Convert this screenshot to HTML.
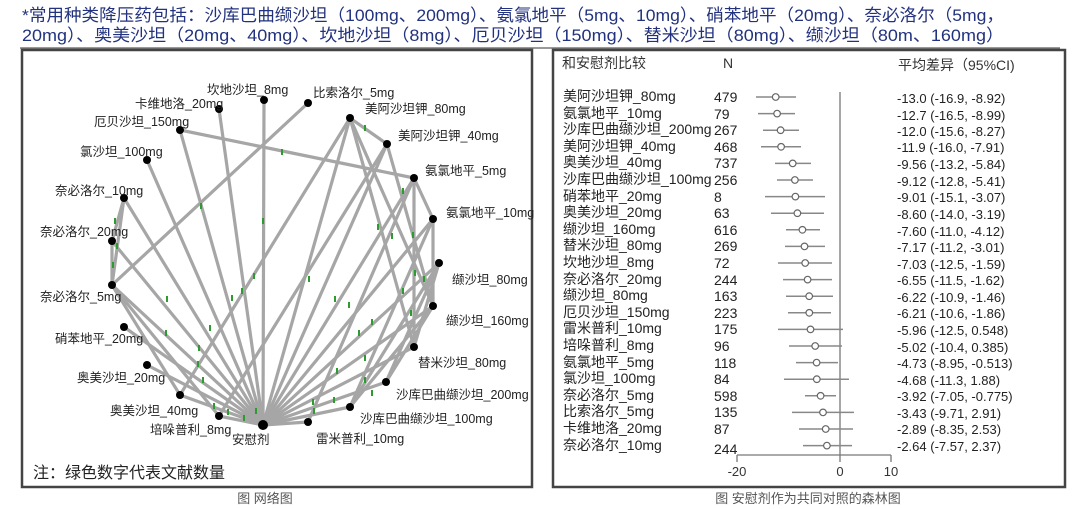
<!DOCTYPE html>
<html><head><meta charset="utf-8"><style>
html,body{margin:0;padding:0;background:#fff;}
svg{display:block;}
text{font-family:"Liberation Sans","Noto Sans CJK SC",sans-serif;}
</style></head><body>
<svg width="1080" height="509" viewBox="0 0 1080 509" xmlns="http://www.w3.org/2000/svg">
<g fill="#22327e" font-size="17">
<text x="22" y="21" textLength="982" lengthAdjust="spacingAndGlyphs">*常用种类降压药包括：沙库巴曲缬沙坦（100mg、200mg）、氨氯地平（5mg、10mg）、硝苯地平（20mg）、奈必洛尔（5mg，</text>
<text x="22" y="41" textLength="982" lengthAdjust="spacingAndGlyphs">20mg）、奥美沙坦（20mg、40mg）、坎地沙坦（8mg）、厄贝沙坦（150mg）、替米沙坦（80mg）、缬沙坦（80m、160mg）</text>
</g>
<line x1="20" y1="48" x2="1060" y2="48" stroke="#333" stroke-width="1"/>
<rect x="22" y="50" width="510" height="437" fill="#fff" stroke="#444" stroke-width="2.5"/>
<g stroke="#a6a6a6" stroke-width="3.2" stroke-linecap="round">
<line x1="263" y1="425" x2="264" y2="100"/><line x1="263" y1="425" x2="350" y2="118"/>
<line x1="263" y1="425" x2="387" y2="144"/><line x1="263" y1="425" x2="414" y2="178"/>
<line x1="263" y1="425" x2="433" y2="219"/><line x1="263" y1="425" x2="439" y2="263"/>
<line x1="263" y1="425" x2="433" y2="306"/><line x1="263" y1="425" x2="414" y2="347"/>
<line x1="263" y1="425" x2="386" y2="382"/><line x1="263" y1="425" x2="350" y2="407"/>
<line x1="263" y1="425" x2="308" y2="422"/><line x1="263" y1="425" x2="219" y2="416"/>
<line x1="263" y1="425" x2="180" y2="395"/><line x1="263" y1="425" x2="147" y2="365"/>
<line x1="263" y1="425" x2="124" y2="327"/><line x1="263" y1="425" x2="112" y2="285"/>
<line x1="263" y1="425" x2="112" y2="241"/><line x1="263" y1="425" x2="124" y2="198"/>
<line x1="263" y1="425" x2="147" y2="160"/><line x1="263" y1="425" x2="180" y2="130"/>
<line x1="263" y1="425" x2="219" y2="109"/>
<line x1="180" y1="130" x2="414" y2="178"/><line x1="308" y1="103" x2="112" y2="285"/>
<line x1="350" y1="118" x2="387" y2="144"/><line x1="350" y1="118" x2="180" y2="395"/>
<line x1="350" y1="118" x2="433" y2="306"/><line x1="350" y1="118" x2="414" y2="347"/>
<line x1="387" y1="144" x2="219" y2="416"/><line x1="387" y1="144" x2="433" y2="306"/>
<line x1="414" y1="178" x2="433" y2="219"/><line x1="414" y1="178" x2="414" y2="347"/>
<line x1="414" y1="178" x2="308" y2="422"/><line x1="433" y1="219" x2="350" y2="407"/>
<line x1="433" y1="219" x2="433" y2="306"/><line x1="439" y1="263" x2="386" y2="382"/>
<line x1="439" y1="263" x2="350" y2="407"/><line x1="439" y1="263" x2="414" y2="347"/>
<line x1="433" y1="306" x2="386" y2="382"/><line x1="433" y1="306" x2="350" y2="407"/>
<line x1="124" y1="198" x2="112" y2="241"/><line x1="112" y1="241" x2="112" y2="285"/>
<line x1="124" y1="198" x2="112" y2="285"/><line x1="112" y1="285" x2="219" y2="416"/>
<line x1="112" y1="285" x2="180" y2="395"/>
</g>
<g fill="#2e9b2e">
<rect x="262" y="218" width="2" height="6"/><rect x="308" y="276" width="2" height="6"/>
<rect x="334" y="296" width="2" height="6"/><rect x="348" y="302" width="2" height="6"/>
<rect x="241" y="288" width="2" height="6"/><rect x="253" y="273" width="2" height="6"/>
<rect x="200" y="203" width="2" height="6"/><rect x="231" y="295" width="2" height="6"/>
<rect x="209" y="325" width="2" height="6"/><rect x="198" y="345" width="2" height="6"/>
<rect x="197" y="361" width="2" height="6"/><rect x="202" y="377" width="2" height="6"/>
<rect x="213" y="403" width="2" height="6"/><rect x="227" y="409" width="2" height="6"/>
<rect x="243" y="415" width="2" height="6"/><rect x="255" y="408" width="2" height="6"/>
<rect x="281" y="149" width="2" height="6"/><rect x="364" y="125" width="2" height="6"/>
<rect x="377" y="224" width="2" height="6"/><rect x="391" y="233" width="2" height="6"/>
<rect x="402" y="188" width="2" height="6"/><rect x="412" y="232" width="2" height="6"/>
<rect x="423" y="276" width="2" height="6"/><rect x="414" y="270" width="2" height="6"/>
<rect x="402" y="288" width="2" height="6"/><rect x="410" y="310" width="2" height="6"/>
<rect x="358" y="330" width="2" height="6"/><rect x="364" y="355" width="2" height="6"/>
<rect x="336" y="368" width="2" height="6"/><rect x="333" y="397" width="2" height="6"/>
<rect x="312" y="399" width="2" height="6"/><rect x="371" y="319" width="2" height="6"/>
<rect x="114" y="218" width="2" height="6"/><rect x="116" y="243" width="2" height="6"/>
<rect x="112" y="262" width="2" height="6"/><rect x="166" y="296" width="2" height="6"/>
<rect x="165" y="330" width="2" height="6"/><rect x="364" y="377" width="2" height="6"/>
<rect x="371" y="390" width="2" height="6"/><rect x="313" y="408" width="2" height="6"/>
</g>
<g fill="#000">
<circle cx="263" cy="425" r="5"/><circle cx="264" cy="100" r="4"/><circle cx="308" cy="103" r="4"/>
<circle cx="350" cy="118" r="4"/><circle cx="387" cy="144" r="4"/><circle cx="414" cy="178" r="4"/>
<circle cx="433" cy="219" r="4"/><circle cx="439" cy="263" r="4"/><circle cx="433" cy="306" r="4"/>
<circle cx="414" cy="347" r="4"/><circle cx="386" cy="382" r="4"/><circle cx="350" cy="407" r="4"/>
<circle cx="308" cy="422" r="4"/><circle cx="219" cy="416" r="4"/><circle cx="180" cy="395" r="4"/>
<circle cx="147" cy="365" r="4"/><circle cx="124" cy="327" r="4"/><circle cx="112" cy="285" r="4"/>
<circle cx="112" cy="241" r="4"/><circle cx="124" cy="198" r="4"/><circle cx="147" cy="160" r="4"/>
<circle cx="180" cy="130" r="4"/><circle cx="219" cy="109" r="4"/>
</g>
<g fill="#222" font-size="12.5">
<text x="207" y="94">坎地沙坦_8mg</text>
<text x="313" y="97">比索洛尔_5mg</text>
<text x="365" y="113">美阿沙坦钾_80mg</text>
<text x="398" y="140">美阿沙坦钾_40mg</text>
<text x="425" y="175">氨氯地平_5mg</text>
<text x="446" y="217">氨氯地平_10mg</text>
<text x="452" y="284">缬沙坦_80mg</text>
<text x="446" y="325">缬沙坦_160mg</text>
<text x="418" y="367">替米沙坦_80mg</text>
<text x="396" y="399">沙库巴曲缬沙坦_200mg</text>
<text x="360" y="423">沙库巴曲缬沙坦_100mg</text>
<text x="316" y="443">雷米普利_10mg</text>
<text x="232" y="444">安慰剂</text>
<text x="150" y="434">培哚普利_8mg</text>
<text x="110" y="415">奥美沙坦_40mg</text>
<text x="77" y="382">奥美沙坦_20mg</text>
<text x="55" y="343">硝苯地平_20mg</text>
<text x="40" y="301">奈必洛尔_5mg</text>
<text x="40" y="236">奈必洛尔_20mg</text>
<text x="55" y="195">奈必洛尔_10mg</text>
<text x="80" y="156">氯沙坦_100mg</text>
<text x="94" y="126">厄贝沙坦_150mg</text>
<text x="135" y="108">卡维地洛_20mg</text>
</g>
<text x="33" y="478" font-size="16" fill="#222">注：绿色数字代表文献数量</text>
<text x="265" y="503" font-size="13" fill="#555" text-anchor="middle">图 网络图</text>
<rect x="553" y="50" width="512" height="437" fill="#fff" stroke="#444" stroke-width="2.5"/>
<g fill="#333" font-size="14">
<text x="562" y="68">和安慰剂比较</text>
<text x="723" y="68">N</text>
<text x="898" y="70">平均差异（95%CI)</text>
</g>
<line x1="840" y1="92" x2="840" y2="455" stroke="#777" stroke-width="1.3"/>
<line x1="737" y1="455" x2="891" y2="455" stroke="#777" stroke-width="1.3"/>
<g stroke="#777" stroke-width="1.3"><line x1="737" y1="455" x2="737" y2="462"/><line x1="840" y1="455" x2="840" y2="462"/><line x1="891" y1="455" x2="891" y2="462"/></g>
<g fill="#333" font-size="13" text-anchor="middle"><text x="737" y="476">-20</text><text x="840" y="476">0</text><text x="891" y="476">10</text></g>
<g font-size="14" fill="#222">
<text x="563" y="101">美阿沙坦钾_80mg</text><text x="563" y="118">氨氯地平_10mg</text>
<text x="563" y="134">沙库巴曲缬沙坦_200mg</text><text x="563" y="151">美阿沙坦钾_40mg</text>
<text x="563" y="167">奥美沙坦_40mg</text><text x="563" y="184">沙库巴曲缬沙坦_100mg</text>
<text x="563" y="201">硝苯地平_20mg</text><text x="563" y="217">奥美沙坦_20mg</text>
<text x="563" y="234">缬沙坦_160mg</text><text x="563" y="250">替米沙坦_80mg</text>
<text x="563" y="267">坎地沙坦_8mg</text><text x="563" y="284">奈必洛尔_20mg</text>
<text x="563" y="300">缬沙坦_80mg</text><text x="563" y="317">厄贝沙坦_150mg</text>
<text x="563" y="333">雷米普利_10mg</text><text x="563" y="350">培哚普利_8mg</text>
<text x="563" y="367">氨氯地平_5mg</text><text x="563" y="383">氯沙坦_100mg</text>
<text x="563" y="400">奈必洛尔_5mg</text><text x="563" y="416">比索洛尔_5mg</text>
<text x="563" y="433">卡维地洛_20mg</text><text x="563" y="450">奈必洛尔_10mg</text>
</g>
<g font-size="14" fill="#222">
<text x="714" y="102">479</text><text x="714" y="119">79</text><text x="714" y="135">267</text>
<text x="714" y="152">468</text><text x="714" y="168">737</text><text x="714" y="185">256</text>
<text x="714" y="202">8</text><text x="714" y="218">63</text><text x="714" y="235">616</text>
<text x="714" y="251">269</text><text x="714" y="268">72</text><text x="714" y="285">244</text>
<text x="714" y="301">163</text><text x="714" y="318">223</text><text x="714" y="334">175</text>
<text x="714" y="351">96</text><text x="714" y="368">118</text><text x="714" y="384">84</text>
<text x="714" y="401">598</text><text x="714" y="417">135</text><text x="714" y="434">87</text>
<text x="714" y="454">244</text>
</g>
<g font-size="13" fill="#222">
<text x="897" y="103">-13.0 (-16.9, -8.92)</text><text x="897" y="120">-12.7 (-16.5, -8.99)</text>
<text x="897" y="136">-12.0 (-15.6, -8.27)</text><text x="897" y="152">-11.9 (-16.0, -7.91)</text>
<text x="897" y="169">-9.56 (-13.2, -5.84)</text><text x="897" y="186">-9.12 (-12.8, -5.41)</text>
<text x="897" y="202">-9.01 (-15.1, -3.07)</text><text x="897" y="219">-8.60 (-14.0, -3.19)</text>
<text x="897" y="236">-7.60 (-11.0, -4.12)</text><text x="897" y="252">-7.17 (-11.2, -3.01)</text>
<text x="897" y="269">-7.03 (-12.5, -1.59)</text><text x="897" y="285">-6.55 (-11.5, -1.62)</text>
<text x="897" y="302">-6.22 (-10.9, -1.46)</text><text x="897" y="318">-6.21 (-10.6, -1.86)</text>
<text x="897" y="335">-5.96 (-12.5, 0.548)</text><text x="897" y="352">-5.02 (-10.4, 0.385)</text>
<text x="897" y="368">-4.73 (-8.95, -0.513)</text><text x="897" y="385">-4.68 (-11.3, 1.88)</text>
<text x="897" y="401">-3.92 (-7.05, -0.775)</text><text x="897" y="418">-3.43 (-9.71, 2.91)</text>
<text x="897" y="434">-2.89 (-8.35, 2.53)</text><text x="897" y="451">-2.64 (-7.57, 2.37)</text>
</g>
<g stroke="#888" stroke-width="1.5">
<line x1="756" y1="97" x2="796" y2="97"/><line x1="758" y1="113.6" x2="795" y2="113.6"/>
<line x1="763" y1="130.2" x2="799" y2="130.2"/><line x1="761" y1="146.8" x2="801" y2="146.8"/>
<line x1="775" y1="163.4" x2="811" y2="163.4"/><line x1="777" y1="180" x2="813" y2="180"/>
<line x1="765" y1="196.6" x2="825" y2="196.6"/><line x1="771" y1="213.2" x2="824" y2="213.2"/>
<line x1="786" y1="229.8" x2="820" y2="229.8"/><line x1="785" y1="246.4" x2="825" y2="246.4"/>
<line x1="778" y1="263" x2="832" y2="263"/><line x1="783" y1="279.6" x2="832" y2="279.6"/>
<line x1="786" y1="296.2" x2="833" y2="296.2"/><line x1="788" y1="312.8" x2="831" y2="312.8"/>
<line x1="778" y1="329.4" x2="843" y2="329.4"/><line x1="789" y1="346" x2="842" y2="346"/>
<line x1="796" y1="362.6" x2="838" y2="362.6"/><line x1="784" y1="379.2" x2="849" y2="379.2"/>
<line x1="805" y1="395.8" x2="836" y2="395.8"/><line x1="792" y1="412.4" x2="854" y2="412.4"/>
<line x1="799" y1="429" x2="853" y2="429"/><line x1="803" y1="445.6" x2="852" y2="445.6"/>
</g>
<g fill="#fff" stroke="#666" stroke-width="1.2">
<circle cx="775.7" cy="97" r="3.3"/><circle cx="777.1" cy="113.6" r="3.3"/>
<circle cx="780.6" cy="130.2" r="3.3"/><circle cx="781.1" cy="146.8" r="3.3"/>
<circle cx="792.7" cy="163.4" r="3.3"/><circle cx="794.9" cy="180" r="3.3"/>
<circle cx="795.4" cy="196.6" r="3.3"/><circle cx="797.4" cy="213.2" r="3.3"/>
<circle cx="802.4" cy="229.8" r="3.3"/><circle cx="804.5" cy="246.4" r="3.3"/>
<circle cx="805.2" cy="263" r="3.3"/><circle cx="807.6" cy="279.6" r="3.3"/>
<circle cx="809.2" cy="296.2" r="3.3"/><circle cx="809.3" cy="312.8" r="3.3"/>
<circle cx="810.5" cy="329.4" r="3.3"/><circle cx="815.2" cy="346" r="3.3"/>
<circle cx="816.6" cy="362.6" r="3.3"/><circle cx="816.8" cy="379.2" r="3.3"/>
<circle cx="820.6" cy="395.8" r="3.3"/><circle cx="823" cy="412.4" r="3.3"/>
<circle cx="825.7" cy="429" r="3.3"/><circle cx="826.9" cy="445.6" r="3.3"/>
</g>
<text x="808" y="503" font-size="13" fill="#555" text-anchor="middle">图 安慰剂作为共同对照的森林图</text>
</svg>
</body></html>
